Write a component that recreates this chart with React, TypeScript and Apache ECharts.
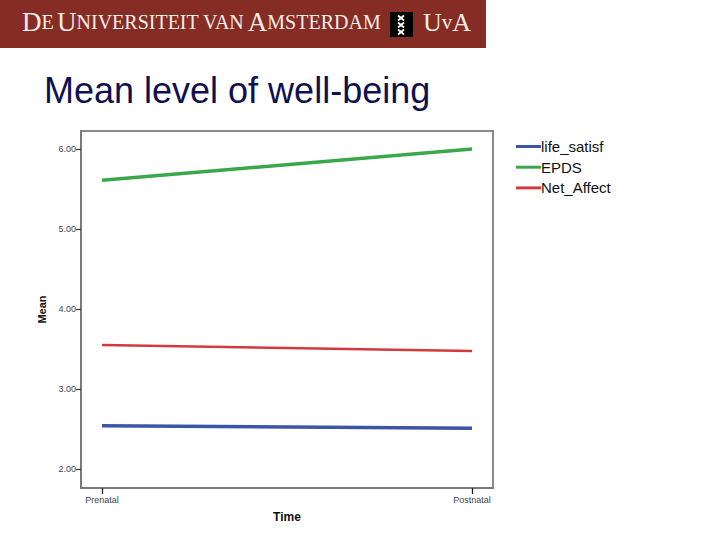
import React, { useEffect, useRef } from "react";
import * as echarts from "echarts";

const categories = ["Prenatal", "Postnatal"];
const seriesNames = ["life_satisf", "EPDS", "Net_Affect"];
const lifeSatisf = [2.54, 2.51];
const epds = [5.61, 6.0];
const netAffect = [3.55, 3.475];
const yTicks = [2, 3, 4, 5, 6];
const seriesColors = ["#3a56a5", "#3aa84a", "#d23a40"];

export default function App() {
  const ref = useRef<HTMLDivElement>(null);
  useEffect(() => {
    if (!ref.current) return;
    const chart = echarts.init(ref.current, null, { renderer: "svg" });
    const seriesData = [lifeSatisf, epds, netAffect];
    const pad = 21 / 370;
    const crossLines: any[] = [];
    [18, 25, 32].forEach((cy) => {
      crossLines.push({
        type: "line",
        shape: { x1: 398, y1: cy - 2.5, x2: 404, y2: cy + 2.5 },
        style: { stroke: "#fff", lineWidth: 1.8 },
      });
      crossLines.push({
        type: "line",
        shape: { x1: 404, y1: cy - 2.5, x2: 398, y2: cy + 2.5 },
        style: { stroke: "#fff", lineWidth: 1.8 },
      });
    });
    chart.setOption({
      animation: false,
      backgroundColor: "#ffffff",
      graphic: [
        { type: "rect", shape: { x: 0, y: 0, width: 486, height: 48 }, style: { fill: "#852d25" } },
        {
          type: "text",
          x: 22,
          y: 35,
          style: {
            text: "{b|D}{s|E} {b|U}{s|NIVERSITEIT VAN} {b|A}{s|MSTERDAM}",
            verticalAlign: "bottom",
            rich: {
              b: { fontSize: 27, fontFamily: "Liberation Serif", fill: "#f3ece8" },
              s: { fontSize: 20, fontFamily: "Liberation Serif", fill: "#f3ece8" },
            },
          },
        },
        { type: "rect", shape: { x: 390, y: 12, width: 23, height: 25 }, style: { fill: "#000" } },
        ...crossLines,
        {
          type: "text",
          x: 423,
          y: 35,
          style: {
            text: "{b|U}{s|v}{b|A}",
            verticalAlign: "bottom",
            rich: {
              b: { fontSize: 26, fontFamily: "Liberation Serif", fill: "#f3ece8" },
              s: { fontSize: 21, fontFamily: "Liberation Serif", fill: "#f3ece8" },
            },
          },
        },
        {
          type: "text",
          x: 44,
          y: 72,
          style: {
            text: "Mean level of well-being",
            font: "36px 'Liberation Sans'",
            fill: "#10104e",
            verticalAlign: "top",
          },
        },
      ],
      legend: {
        orient: "vertical",
        left: 511,
        top: 134,
        itemWidth: 25,
        itemHeight: 3,
        itemGap: 5.7,
        icon: "rect",
        data: seriesNames,
        textStyle: { fontFamily: "Liberation Sans", fontSize: 15, color: "#111", padding: [0, 0, 0, -5] },
      },
      grid: {
        left: 81,
        top: 131,
        right: 227,
        bottom: 52,
        show: true,
        borderColor: "#8a8a8a",
        borderWidth: 2,
      },
      xAxis: {
        type: "value",
        min: -pad,
        max: 1 + pad,
        splitLine: { show: false },
        name: "Time",
        nameLocation: "middle",
        nameGap: 23,
        nameTextStyle: { fontFamily: "Liberation Sans", fontWeight: "bold", fontSize: 12, color: "#111" },
        axisLine: { show: true, onZero: false, lineStyle: { color: "#7a7a7a", width: 2 } },
        axisTick: { show: true, customValues: [0, 1], length: 6, lineStyle: { color: "#222", width: 1.3 } },
        axisLabel: {
          customValues: [0, 1],
          formatter: (v: number) => categories[Math.round(v)] ?? "",
          fontFamily: "Liberation Sans",
          fontSize: 9,
          color: "#444",
          margin: 7,
        },
      },
      yAxis: {
        type: "value",
        min: 1.7625,
        max: 6.225,
        splitLine: { show: false },
        name: "Mean",
        nameLocation: "middle",
        nameMoveOverlap: false,
        nameGap: 34,
        nameRotate: 90,
        nameTextStyle: { fontFamily: "Liberation Sans", fontWeight: "bold", fontSize: 11, color: "#111" },
        axisLine: { show: true, onZero: false, lineStyle: { color: "#7a7a7a", width: 2 } },
        axisTick: { show: true, customValues: yTicks, length: 5, lineStyle: { color: "#444", width: 1.3 } },
        axisLabel: {
          customValues: yTicks,
          formatter: (v: number) => v.toFixed(2),
          fontFamily: "Liberation Sans",
          fontSize: 9,
          color: "#444",
          margin: 5,
        },
      },
      series: seriesNames.map((name, i) => ({
        name,
        type: "line",
        symbol: "none",
        data: seriesData[i].map((v, j) => [j, v]),
        lineStyle: { color: seriesColors[i], width: i === 2 ? 2.5 : 3.5 },
        itemStyle: { color: seriesColors[i] },
      })),
    });
    return () => chart.dispose();
  }, []);
  return (
    <div
      ref={ref}
      style={{ position: "fixed", left: 0, top: 0, width: 720, height: 540 }}
    />
  );
}
